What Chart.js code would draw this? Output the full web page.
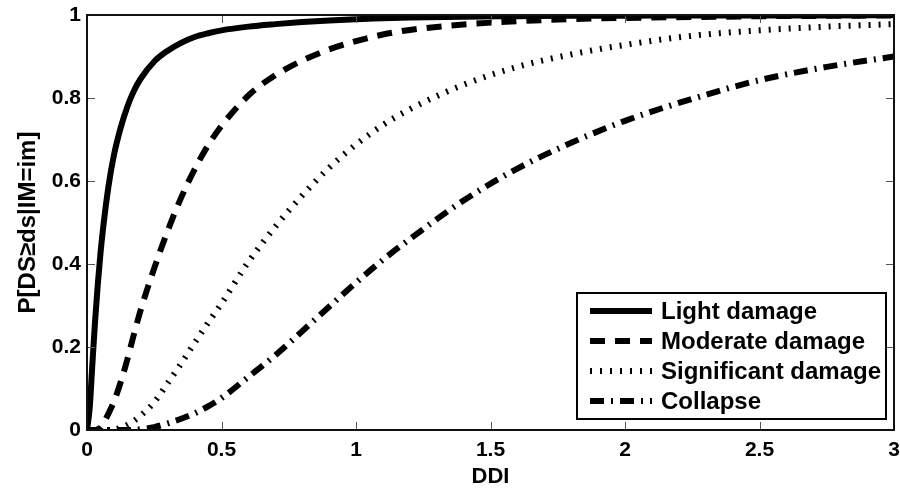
<!DOCTYPE html>
<html>
<head>
<meta charset="utf-8">
<script src="https://cdn.jsdelivr.net/npm/chart.js@4.4.0/dist/chart.umd.min.js"></script>
<style>
  html, body { margin: 0; padding: 0; background: #fff; }
</style>
</head>
<body>
<canvas id="chart" width="900" height="491"></canvas>
<script>
// DDI sample points (x axis)
const ddi = [0, 0.01, 0.02, 0.03, 0.04, 0.05, 0.06, 0.08, 0.1, 0.125, 0.15, 0.175, 0.2, 0.25, 0.3, 0.35,
    0.4, 0.45, 0.5, 0.6, 0.7, 0.8, 0.9, 1.0, 1.1, 1.2, 1.4, 1.6, 1.8, 2.0, 2.25, 2.5, 2.75, 3.0];

// P[DS>=ds | IM=im]
const lightDamage = [0, 0.053, 0.159, 0.262, 0.35, 0.425, 0.487, 0.588, 0.662, 0.728, 0.779, 0.818, 0.847, 0.888, 0.914, 0.933,
    0.947, 0.956, 0.963, 0.972, 0.978, 0.983, 0.987, 0.99, 0.992, 0.994, 0.996, 0.997, 0.998, 0.998, 0.999, 0.999, 0.999, 1.0];
const moderateDamage = [0, 0, 0, 0, 0.002, 0.006, 0.015, 0.04, 0.068, 0.115, 0.17, 0.232, 0.29, 0.39, 0.48, 0.56,
    0.628, 0.686, 0.733, 0.806, 0.855, 0.89, 0.917, 0.937, 0.953, 0.964, 0.977, 0.985, 0.99, 0.993, 0.995, 0.997, 0.998, 0.999];
const significantDamage = [0, 0, 0, 0, 0, 0, 0, 0, 0.001, 0.005, 0.012, 0.022, 0.035, 0.067, 0.113, 0.16,
    0.21, 0.258, 0.305, 0.405, 0.49, 0.565, 0.632, 0.688, 0.735, 0.773, 0.832, 0.875, 0.905, 0.928, 0.95, 0.963, 0.972, 0.978];
const collapse = [0, 0, 0, 0, 0, 0, 0, 0, 0, 0, 0, 0, 0.002, 0.007, 0.016, 0.027,
    0.04, 0.057, 0.077, 0.128, 0.18, 0.238, 0.297, 0.355, 0.41, 0.46, 0.553, 0.63, 0.692, 0.745, 0.798, 0.843, 0.875, 0.9];

const seriesNames = ['Light damage', 'Moderate damage', 'Significant damage', 'Collapse'];
const seriesValues = [lightDamage, moderateDamage, significantDamage, collapse];

const xTicks = [0, 0.5, 1, 1.5, 2, 2.5, 3];
const yTicks = [0, 0.2, 0.4, 0.6, 0.8, 1];

// MATLAB-like line styles
const lineStyles = [
    { borderWidth: 6, borderDash: [] },
    { borderWidth: 6, borderDash: [15, 10] },
    { borderWidth: 6, borderDash: [2, 8] },
    { borderWidth: 6, borderDash: [14, 7, 2, 7] }
];

const FONT = "'Liberation Sans', Arial, Helvetica, sans-serif";

// Box with inward tick marks on all four sides
const framePlugin = {
    id: 'frame',
    afterDatasetsDraw(chart) {
        const { ctx, chartArea: a, scales: { x, y } } = chart;
        const len = 8;
        ctx.save();
        ctx.strokeStyle = '#555';
        ctx.lineWidth = 1;
        ctx.beginPath();
        xTicks.forEach(v => {
            const px = Math.round(x.getPixelForValue(v)) + 0.5;
            ctx.moveTo(px, a.bottom); ctx.lineTo(px, a.bottom - len);
            ctx.moveTo(px, a.top); ctx.lineTo(px, a.top + len);
        });
        yTicks.forEach(v => {
            const py = Math.round(y.getPixelForValue(v)) + 0.5;
            ctx.moveTo(a.left, py); ctx.lineTo(a.left + len, py);
            ctx.moveTo(a.right, py); ctx.lineTo(a.right - len, py);
        });
        ctx.stroke();
        ctx.strokeStyle = '#111';
        ctx.lineWidth = 2;
        ctx.strokeRect(a.left, a.top, a.right - a.left, a.bottom - a.top);
        ctx.restore();
    }
};

// Legend box in the lower right corner
const legendPlugin = {
    id: 'boxLegend',
    afterDraw(chart) {
        const { ctx } = chart;
        const box = { left: 577, top: 293, right: 886, bottom: 419 };
        const rowH = 30;
        ctx.save();
        ctx.fillStyle = '#fff';
        ctx.fillRect(box.left, box.top, box.right - box.left, box.bottom - box.top);
        ctx.strokeStyle = '#000';
        ctx.lineWidth = 2;
        ctx.strokeRect(box.left, box.top, box.right - box.left, box.bottom - box.top);
        chart.data.datasets.forEach((ds, i) => {
            const cy = box.top + 18 + i * rowH;
            ctx.beginPath();
            ctx.lineWidth = ds.borderWidth;
            ctx.setLineDash(ds.borderDash);
            ctx.lineCap = 'butt';
            ctx.strokeStyle = '#000';
            ctx.moveTo(590, cy);
            ctx.lineTo(652, cy);
            ctx.stroke();
            ctx.setLineDash([]);
            ctx.fillStyle = '#000';
            ctx.font = 'bold 24px ' + FONT;
            ctx.textBaseline = 'middle';
            ctx.fillText(ds.label, 661, cy + 1);
        });
        ctx.restore();
    }
};

const datasets = seriesNames.map((name, i) => ({
    label: name,
    data: ddi.map((v, j) => ({ x: v, y: seriesValues[i][j] })),
    borderColor: '#000',
    borderWidth: lineStyles[i].borderWidth,
    borderDash: lineStyles[i].borderDash,
    borderCapStyle: 'butt',
    pointRadius: 0,
    fill: false,
    cubicInterpolationMode: 'monotone',
    clip: 0
}));

const tickFont = { family: FONT, size: 21, weight: 'bold' };

new Chart(document.getElementById('chart').getContext('2d'), {
    type: 'line',
    data: { datasets },
    options: {
        responsive: false,
        animation: false,
        devicePixelRatio: 1,
        layout: { padding: { top: 15, right: 6, left: 0, bottom: 0 } },
        plugins: { legend: { display: false }, tooltip: { enabled: false } },
        scales: {
            x: {
                type: 'linear',
                min: 0,
                max: 3,
                afterBuildTicks: (s) => { s.ticks = xTicks.map(v => ({ value: v })); },
                afterFit: (s) => { s.height = 61; s.paddingLeft = 0; s.paddingRight = 0; },
                grid: { display: false, drawTicks: false },
                border: { display: false },
                ticks: {
                    font: tickFont, color: '#000', padding: 8, maxRotation: 0,
                    callback: (v) => String(v)
                },
                title: {
                    display: true, text: 'DDI', color: '#000',
                    font: { family: FONT, size: 22, weight: 'bold' },
                    padding: { top: 0, bottom: 1 }
                }
            },
            y: {
                min: 0,
                max: 1,
                afterBuildTicks: (s) => { s.ticks = yTicks.map(v => ({ value: v })); },
                afterFit: (s) => { s.width = 87; s.paddingTop = 0; s.paddingBottom = 0; },
                grid: { display: false, drawTicks: false },
                border: { display: false },
                ticks: {
                    font: tickFont, color: '#000', padding: 6,
                    callback: (v) => String(v)
                },
                title: {
                    display: true, text: 'P[DS≥ds|IM=im]', color: '#000',
                    font: { family: FONT, size: 24, weight: 'bold' },
                    padding: { top: 14, bottom: 0 }
                }
            }
        }
    },
    plugins: [framePlugin, legendPlugin]
});
</script>
</body>
</html>
